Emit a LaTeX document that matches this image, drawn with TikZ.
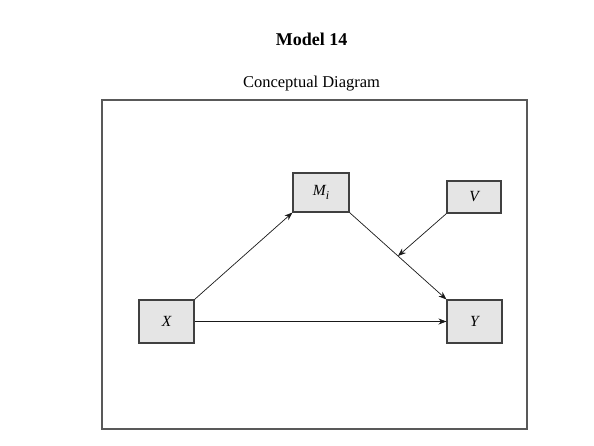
\documentclass[tikz,border=0pt]{standalone}
\usepackage{fontspec}
\setmainfont{Liberation Serif}
\usetikzlibrary{arrows.meta,calc}
\begin{document}
\begin{tikzpicture}[x=1pt,y=-1pt,
  varbox/.style={draw=black!75,line width=1.1pt,fill=black!10,rectangle,inner sep=0pt,
    font=\fontsize{15.5}{17}\selectfont\itshape},
  conn/.style={draw=black!90,line width=0.7pt,-{Stealth[length=8pt,width=6pt]}}]
\useasboundingbox (0,0) rectangle (594,445);
\node[font=\fontsize{18}{20}\selectfont\bfseries] (title) at (311.5,39) {Model 14};
\node[font=\fontsize{16.5}{18}\selectfont] (sub) at (311.5,84) {Conceptual Diagram};
\node[draw=black!65,line width=1.2pt,rectangle,inner sep=0pt,minimum width=425pt,minimum height=329pt] (frame) at (314.5,264.5) {};
\node[varbox,minimum width=56pt,minimum height=39pt] (M) at (321,192.5) {M\raisebox{-3.5pt}{\fontsize{12}{13}\selectfont i}};
\node[varbox,minimum width=54pt,minimum height=32pt] (V) at (474,197) {V};
\node[varbox,minimum width=55pt,minimum height=43pt] (X) at (166.5,321.5) {X};
\node[varbox,minimum width=55pt,minimum height=43pt] (Y) at (474.5,321.5) {Y};
\draw[conn] (X.north east) -- (M.south west);
\draw[conn] (M.south east) -- (Y.north west);
\coordinate (mid) at ($(M.south east)!0.5!(Y.north west)$);
\draw[conn] (V.south west) -- (mid);
\draw[conn] (X.east) -- (Y.west);
\end{tikzpicture}
\end{document}
